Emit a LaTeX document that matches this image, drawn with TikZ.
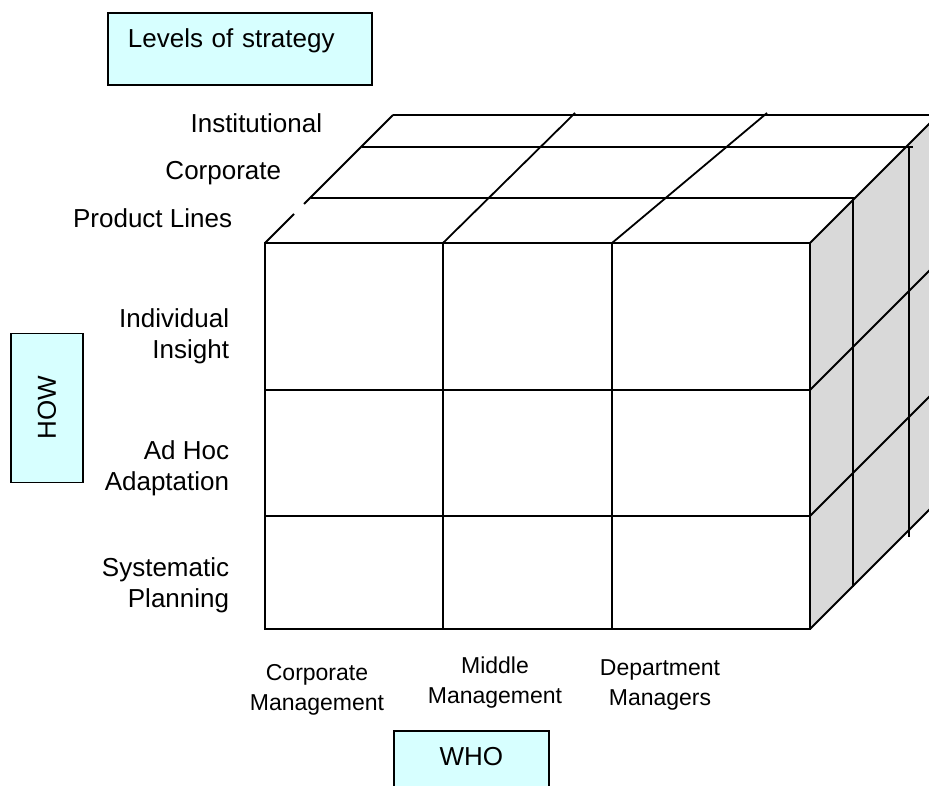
\documentclass[tikz,border=0pt]{standalone}
\usepackage{fontspec}
\setmainfont{Liberation Sans}
\definecolor{boxcyan}{RGB}{215,255,255}
\definecolor{sidegray}{RGB}{217,217,217}

\begin{document}
\begin{tikzpicture}[x=1pt,y=-1pt,line width=1.8pt,
    lbl/.style={inner sep=0pt,font=\fontsize{26}{31}\selectfont},
    collbl/.style={lbl,anchor=north,align=center,font=\fontsize{23}{30}\selectfont},
    tagbox/.style={draw,fill=boxcyan,inner sep=0pt,font=\fontsize{26}{31}\selectfont}]
        \useasboundingbox (0,0) rectangle (929,786);
        \clip (0,0) rectangle (929,786);
        % side face of the cube
        \fill[sidegray] (810,243) -- (940,113) -- (940,499) -- (810,629) -- cycle;
        % front face
        \draw (265,243) rectangle (810,629);
        \draw (443,243) -- (443,629);
        \draw (612,243) -- (612,629);
        \draw (265,390) -- (810,390);
        \draw (265,516) -- (810,516);
        % top face
        \draw (265,243) -- (294,214);
        \draw (304,204) -- (393,115);
        \draw (393,115) -- (940,115);
        \draw (362,147) -- (913,147);
        \draw (311,198) -- (855,198);
        \draw (443,243) -- (575,113);
        \draw (612,243) -- (767,113);
        \draw (810,243) -- (940,113);
        % side face
        \draw (810,390) -- (940,260);
        \draw (810,516) -- (940,386);
        \draw (810,629) -- (940,499);
        \draw (853,198) -- (853,587);
        \draw (909,147) -- (909,537);
        % routine for depth labels
        \node[lbl,anchor=base east] (inst) at (323,133) {Institutional};
        \node[lbl,anchor=base east] (corp) at (282,180) {Corporate};
        \node[lbl,anchor=base east] (prod) at (233,228) {Product Lines};
        % routine for row labels
        \node[lbl,anchor=north east,align=right] (insight) at (230,308) {Individual\\Insight};
        \node[lbl,anchor=north east,align=right] (adhoc) at (230,440) {Ad Hoc\\Adaptation};
        \node[lbl,anchor=north east,align=right] (plan) at (230,557) {Systematic\\Planning};
        % routine for column labels
        \node[collbl] (corpman) at (317,664) {Corporate\\Management};
        \node[collbl] (midman) at (495,656) {Middle\\Management};
        \node[collbl] (depman) at (660,659) {Department\\Managers};
        % boxes
        \node[tagbox,anchor=north west,text width=224pt,inner xsep=20pt,align=left,
          text height=35pt,text depth=37pt] (levels) at (107,12) {Levels of strategy};
        \node[tagbox,rotate=90,minimum width=149pt,minimum height=72pt] (how) at (47,408) {HOW};
        \node[tagbox,anchor=north west,text width=155pt,align=center,
          text height=35pt,text depth=45pt] (who) at (393,730) {WHO};
      \end{tikzpicture}
\end{document}
